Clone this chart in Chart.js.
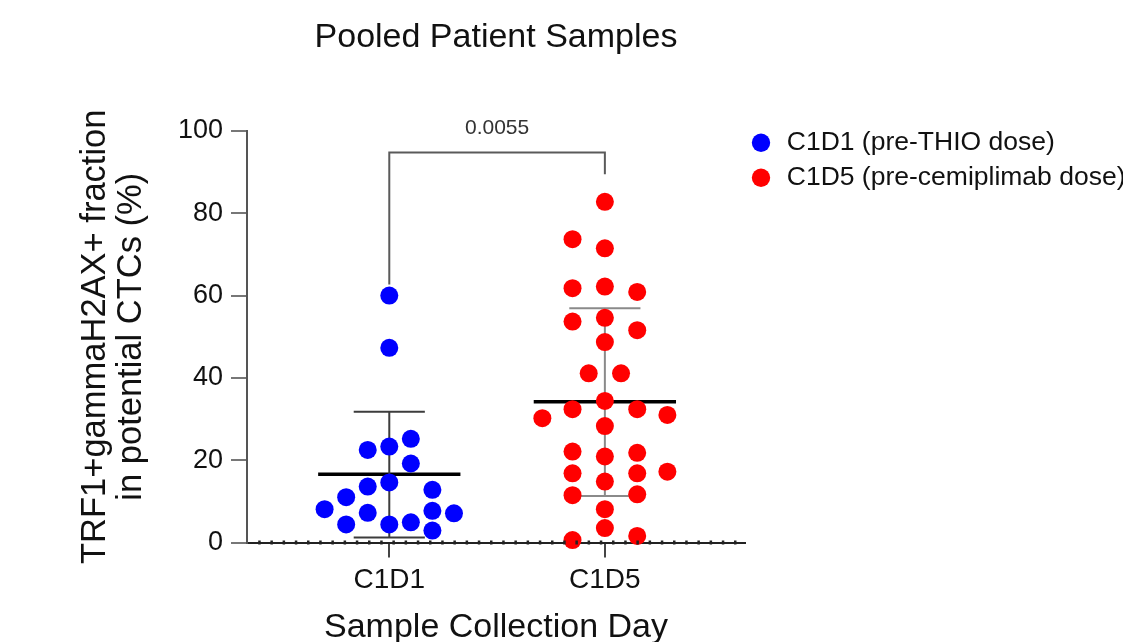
<!DOCTYPE html>
<html>
<head>
<meta charset="utf-8">
<title>Pooled Patient Samples</title>
<script src="https://cdn.jsdelivr.net/npm/chart.js@4.4.1/dist/chart.umd.min.js"></script>
<style>
  body { margin: 0; background: #fff; }
  #wrap { width: 1128px; height: 642px; }
</style>
</head>
<body>
<div id="wrap"><canvas id="chart" width="1128" height="642"></canvas></div>
<script>
const chartTitle = 'Pooled Patient Samples';
const categories = ['C1D1', 'C1D5'];
const legendLabels = ['C1D1 (pre-THIO dose)', 'C1D5 (pre-cemiplimab dose)'];
const yTitle = ['TRF1+gammaH2AX+ fraction', 'in potential CTCs (%)'];
const xTitle = 'Sample Collection Day';

// % values per sample, offsets = sideways spread of the dots around the day
const c1d1Values  = [60, 47.3, 22.5, 23.3, 25.2, 19.2, 14.6, 13.6, 11.0, 12.8, 8.1, 7.2, 7.7, 7.1, 4.4, 4.4, 4.9, 2.9];
const c1d1Offsets = [0, 0, -0.1, 0, 0.1, 0.1, 0, -0.1, -0.2, 0.2, -0.3, -0.1, 0.2, 0.3, -0.2, 0, 0.1, 0.2];
const c1d5Values  = [82.8, 73.7, 71.5, 61.8, 62.2, 60.9, 53.7, 54.6, 51.6, 48.7, 41.1, 41.1, 34.4, 32.4, 32.4, 30.2, 31.0,
                     28.3, 22.1, 20.9, 21.8, 16.8, 16.8, 17.2, 14.8, 11.5, 11.7, 8.1, 3.5, 0.6, 1.6];
const c1d5Offsets = [0, -0.15, 0, -0.15, 0, 0.15, -0.15, 0, 0.15, 0, -0.075, 0.075, 0, -0.15, 0.15, -0.29, 0.29,
                     0, -0.15, 0, 0.15, -0.15, 0.15, 0.29, 0, -0.15, 0.15, 0, 0, -0.15, 0.15];

// mean +/- SD as drawn
const groupMeans = [16.6, 34.2];
const sdUpper = [31.8, 56.9];
const sdLower = [1.2, 11.3];

const pValue = '0.0055';
const bracketTop = 94.8;
const bracketLegs = [62.7, 89.5];

const FONT = 'Arial, "Liberation Sans", sans-serif';
Chart.defaults.font.family = FONT;
Chart.defaults.color = '#111';

const meanHalf = 0.33;
const capHalf = 0.165;

function points(values, offsets, pos) {
    return values.map((v, i) => ({ x: pos + offsets[i], y: v }));
}

function meanLine(i) {
    const pos = i + 1;
    return [{ x: pos - meanHalf, y: groupMeans[i] }, { x: pos + meanHalf, y: groupMeans[i] }];
}

function sdBar(i) {
    const pos = i + 1;
    return [
        { x: pos - capHalf, y: sdUpper[i] }, { x: pos + capHalf, y: sdUpper[i] }, { x: pos, y: null },
        { x: pos, y: sdUpper[i] }, { x: pos, y: sdLower[i] }, { x: pos, y: null },
        { x: pos - capHalf, y: sdLower[i] }, { x: pos + capHalf, y: sdLower[i] }
    ];
}

function lineSet(data, color, width) {
    return {
        data: data, showLine: true, borderColor: color, borderWidth: width,
        pointRadius: 0, spanGaps: false, order: 2, clip: false
    };
}

const extras = {
    id: 'extras',
    afterLayout(chart) {
        // legend sits a bit higher and closer to the plot in the figure
        const lg = chart.legend;
        lg.left -= 5; lg.right -= 5;
        lg.top -= 10; lg.bottom -= 10;
    },
    afterDraw(chart) {
        const { ctx, chartArea, scales } = chart;
        const x = scales.x, y = scales.y;
        ctx.save();
        ctx.textAlign = 'center';
        ctx.textBaseline = 'middle';

        ctx.fillStyle = '#111';
        ctx.font = '34px ' + FONT;
        ctx.fillText(chartTitle, (chartArea.left + chartArea.right) / 2, 38);

        ctx.fillStyle = '#333';
        ctx.font = '21px ' + FONT;
        ctx.fillText(pValue, (x.getPixelForValue(1) + x.getPixelForValue(2)) / 2, y.getPixelForValue(bracketTop) - 24);

        // little dots along the x axis
        const y0 = y.getPixelForValue(0);
        ctx.fillStyle = '#222';
        for (let px = chartArea.left + 12.2; px < chartArea.right; px += 12.2) {
            ctx.fillRect(px - 1, y0 - 2, 2.5, 4);
        }
        ctx.restore();
    }
};

const ctx = document.getElementById('chart').getContext('2d');
new Chart(ctx, {
    type: 'scatter',
    data: {
        datasets: [
            {
                label: legendLabels[0],
                data: points(c1d1Values, c1d1Offsets, 1),
                backgroundColor: '#0000ff', borderWidth: 0,
                pointRadius: 9, pointStyle: 'circle', order: 0, clip: false
            },
            {
                label: legendLabels[1],
                data: points(c1d5Values, c1d5Offsets, 2),
                backgroundColor: '#ff0000', borderWidth: 0,
                pointRadius: 9, pointStyle: 'circle', order: 0, clip: false
            },
            lineSet(sdBar(0), '#3c3c3c', 2),
            lineSet(sdBar(1), '#8a8a8a', 2),
            lineSet(meanLine(0), '#000', 3.5),
            lineSet(meanLine(1), '#000', 3.5),
            lineSet([
                { x: 1, y: bracketLegs[0] }, { x: 1, y: bracketTop },
                { x: 2, y: bracketTop }, { x: 2, y: bracketLegs[1] }
            ], '#5a5a5a', 2)
        ]
    },
    options: {
        responsive: false,
        animation: false,
        events: [],
        layout: { padding: { top: 131, right: 0, bottom: 0, left: 0 } },
        plugins: {
            title: { display: false },
            tooltip: { enabled: false },
            legend: {
                position: 'right',
                align: 'start',
                maxWidth: 383,
                labels: {
                    usePointStyle: true,
                    boxHeight: 13,
                    boxWidth: 25,
                    padding: 8.5,
                    color: '#111',
                    font: { size: 26.5 },
                    filter: item => item.datasetIndex < 2
                }
            }
        },
        scales: {
            x: {
                type: 'linear',
                min: 0.34,
                max: 2.65,
                afterBuildTicks: axis => { axis.ticks = categories.map((c, i) => ({ value: i + 1 })); },
                afterFit: axis => { axis.height = 99.5; },
                ticks: {
                    callback: v => categories[v - 1],
                    font: { size: 28 },
                    color: '#111',
                    padding: 6,
                    maxRotation: 0
                },
                grid: { drawOnChartArea: false, tickLength: 15, color: '#444', lineWidth: 2 },
                border: { color: '#222', width: 2 },
                title: {
                    display: true, text: xTitle, color: '#111',
                    font: { size: 34, lineHeight: 1 },
                    padding: { top: 0, bottom: -3 }
                }
            },
            y: {
                min: 0,
                max: 100,
                afterFit: axis => { axis.width = 247; },
                ticks: { stepSize: 20, font: { size: 27 }, color: '#111', padding: 8 },
                grid: { drawOnChartArea: false, tickLength: 16, color: '#777', lineWidth: 2 },
                border: { color: '#555', width: 2 },
                title: {
                    display: true, text: yTitle, color: '#111',
                    font: { size: 34.5, lineHeight: 1.05 },
                    padding: { top: 77, bottom: 0 }
                }
            }
        }
    },
    plugins: [extras]
});
</script>
</body>
</html>
